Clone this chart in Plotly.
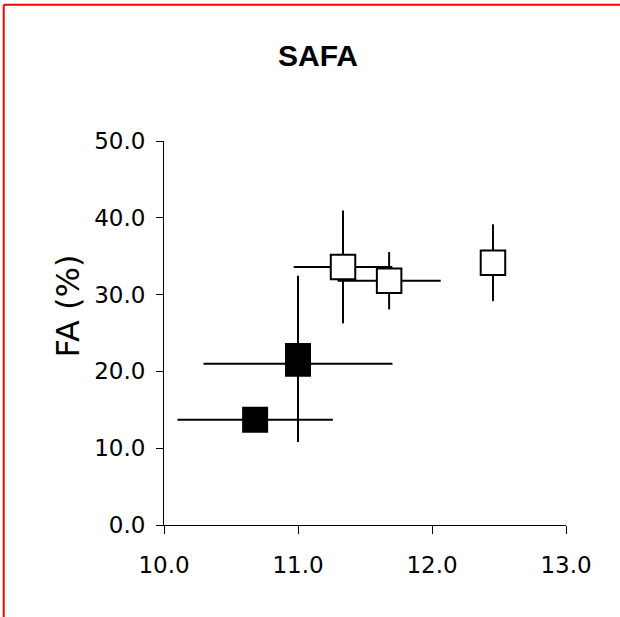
import plotly.graph_objects as go

# ---- data ----
# filled (black) series
black_x = [10.68, 11.00, 11.00]
black_y = [13.7, 21.0, 22.0]
black_xerr = [0.58, 0.705, 0.0]
black_yerr_plus = [0.0, 0.0, 10.45]
black_yerr_minus = [0.0, 0.0, 11.2]

# open (white) series
open_x = [11.336, 11.68, 12.455]
open_y = [33.6, 31.8, 34.15]
open_xerr = [0.368, 0.385, 0.0]
open_yerr = [7.35, 3.73, 5.0]

x_ticks = [10.0, 11.0, 12.0, 13.0]
y_ticks = [0.0, 10.0, 20.0, 30.0, 40.0, 50.0]

title_text = "SAFA"
ytitle_text = "FA (%)"

W, H = 620, 617
L, R, T, B = 164, 54, 141, 92
pw, ph = W - L - R, H - T - B

def px_x(p):
    return (p - L) / pw

def px_y(p):
    return (H - B - p) / ph

fig = go.Figure()

fig.add_trace(go.Scatter(
    x=open_x, y=open_y, mode="markers",
    marker=dict(symbol="square", size=24.5, color="white",
                line=dict(color="black", width=2)),
    error_x=dict(type="data", array=open_xerr, color="black", thickness=2, width=0),
    error_y=dict(type="data", array=open_yerr, color="black", thickness=2, width=0),
    showlegend=False, hoverinfo="skip",
))

fig.add_trace(go.Scatter(
    x=black_x, y=black_y, mode="markers",
    marker=dict(symbol="square", size=24, color="black",
                line=dict(color="black", width=2)),
    error_x=dict(type="data", array=black_xerr, color="black", thickness=2, width=0),
    error_y=dict(type="data", array=black_yerr_plus, arrayminus=black_yerr_minus,
                 color="black", thickness=2, width=0),
    showlegend=False, hoverinfo="skip",
))

tick_font = dict(family="DejaVu Sans", size=23, color="black")

fig.update_xaxes(
    range=[10, 13], tickvals=x_ticks, ticktext=[f"{v:.1f}" for v in x_ticks],
    showgrid=False, zeroline=False, showline=True, linecolor="black", linewidth=1,
    ticks="outside", ticklen=8, tickcolor="black", tickwidth=1,
    tickfont=tick_font, ticklabelstandoff=11,
)
fig.update_yaxes(
    range=[0, 50], tickvals=y_ticks, ticktext=[f"{v:.1f}" for v in y_ticks],
    showgrid=False, zeroline=False, showline=True, linecolor="black", linewidth=1,
    ticks="outside", ticklen=7, tickcolor="black", tickwidth=1,
    tickfont=tick_font, ticklabelstandoff=6,
)

fig.add_annotation(
    text=title_text, xref="paper", yref="paper",
    x=px_x(318), y=px_y(55.5), xanchor="center", yanchor="middle",
    showarrow=False,
    font=dict(family="Liberation Sans", size=30, color="black", weight="bold"),
)
fig.add_annotation(
    text=ytitle_text, xref="paper", yref="paper",
    x=px_x(67.5), y=px_y(306), xanchor="center", yanchor="middle",
    showarrow=False, textangle=-90,
    font=dict(family="DejaVu Sans", size=32, color="black"),
)

# red frame (top and left edges)
fig.add_shape(type="line", xref="paper", yref="paper",
              x0=px_x(3.7), x1=px_x(W + 2), y0=px_y(4.8), y1=px_y(4.8),
              line=dict(color="red", width=2))
fig.add_shape(type="line", xref="paper", yref="paper",
              x0=px_x(3.7), x1=px_x(3.7), y0=px_y(4.8), y1=px_y(H + 2),
              line=dict(color="red", width=2))

fig.update_layout(
    width=W, height=H,
    margin=dict(l=L, r=R, t=T, b=B),
    paper_bgcolor="white", plot_bgcolor="white",
    showlegend=False,
)

fig.write_html("out.html")
